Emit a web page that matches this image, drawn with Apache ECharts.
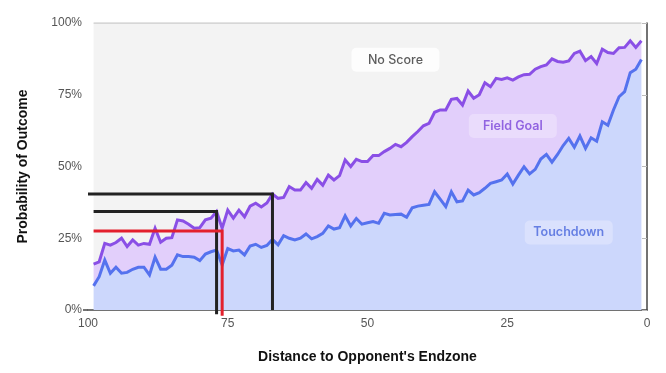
<!DOCTYPE html>
<html>
<head>
<meta charset="utf-8">
<script src="https://cdn.jsdelivr.net/npm/echarts@6/dist/echarts.min.js"></script>
<style>
  html, body { margin: 0; padding: 0; background: #ffffff; }
  #chart { width: 666px; height: 373px; }
</style>
</head>
<body>
<div id="chart"></div>
<script>
// Axis categories: distance to opponent's endzone (yards), 100 -> 0, left to right
const distanceAxis = [100,99,98,97,96,95,94,93,92,91,90,89,88,87,86,85,84,83,82,81,80,
  79,78,77,76,75,74,73,72,71,70,69,68,67,66,65,64,63,62,61,60,
  59,58,57,56,55,54,53,52,51,50,49,48,47,46,45,44,43,42,41,40,
  39,38,37,36,35,34,33,32,31,30,29,28,27,26,25,24,23,22,21,20,
  19,18,17,16,15,14,13,12,11,10,9,8,7,6,5,4,3,2,1,0];

// Yard lines with observations
const yards = [99,98,97,96,95,94,93,92,91,90,89,88,87,86,85,84,83,82,81,80,
  79,78,77,76,75,74,73,72,71,70,69,68,67,66,65,64,63,62,61,60,
  59,58,57,56,55,54,53,52,51,50,49,48,47,46,45,44,43,42,41,40,
  39,38,37,36,35,34,33,32,31,30,29,28,27,26,25,24,23,22,21,20,
  19,18,17,16,15,14,13,12,11,10,9,8,7,6,5,4,3,2,1];

// Probability (%) of a touchdown
const touchdown = [8.4,11.6,17.4,12.8,14.9,12.8,13.1,14.2,14.9,14.9,12.2,18.4,14.2,14.2,15.6,19.2,18.6,18.6,18.4,17.2,
  19.5,20.3,20.9,15.7,21.4,20.6,20.9,19.2,22.3,22.9,21.8,22.5,24.6,22.7,25.9,25.0,24.4,25.0,26.5,24.8,
  25.6,26.7,29.3,28.2,28.7,32.8,29.3,31.9,29.9,30.4,30.8,30.2,33.7,33.1,33.3,33.4,32.3,35.6,36.2,36.5,
  36.8,41.2,38.6,36.0,41.2,37.7,38.0,41.8,40.1,40.9,42.4,44.1,44.7,45.3,47.4,43.9,47.0,49.9,47.4,49.0,
  52.6,54.2,51.5,54.2,57.3,59.8,56.7,60.6,56.3,60.0,58.8,65.6,64.4,69.7,74.3,76.1,82.7,83.9,87.3];

// Probability (%) of a field goal
const fieldGoal = [7.6,5.2,5.8,9.8,8.6,12.2,9.0,10.2,7.7,8.3,10.7,10.1,9.4,10.8,9.6,12.2,12.4,11.3,10.1,11.5,
  11.9,11.7,13.4,12.8,13.4,11.4,13.9,13.3,13.9,14.3,14.1,14.8,15.8,16.2,13.3,18.0,17.4,16.8,17.9,17.6,
  19.9,16.8,17.7,17.1,18.1,19.5,20.7,20.6,21.8,21.3,23.0,23.6,21.5,23.2,24.4,23.5,26.1,24.8,26.0,27.7,
  28.2,27.7,31.1,33.7,32.2,36.0,33.4,34.5,33.7,34.1,36.8,33.7,36.0,35.0,33.5,36.2,34.2,32.1,34.7,34.9,
  32.2,31.2,36.0,32.4,29.0,27.0,32.7,29.6,30.6,28.3,27.1,25.3,25.3,19.7,17.1,15.4,11.1,7.6,6.5];

// Probability (%) of no score
const noScore = [84.0,83.2,76.8,77.4,76.5,75.0,77.9,75.6,77.4,76.8,77.1,71.5,76.4,75.0,74.8,68.6,69.0,70.1,71.5,71.3,
  68.6,68.0,65.7,71.5,65.2,68.0,65.2,67.5,63.8,62.8,64.1,62.7,59.6,61.1,60.8,57.0,58.2,58.2,55.6,57.6,
  54.5,56.5,53.0,54.7,53.2,47.7,50.0,47.5,48.3,48.3,46.2,46.2,44.8,43.7,42.3,43.1,41.6,39.6,37.8,35.8,
  35.0,31.1,30.3,30.3,26.6,26.3,28.6,23.7,26.2,25.0,20.8,22.2,19.3,19.7,19.1,19.9,18.8,18.0,17.9,16.1,
  15.2,14.6,12.5,13.4,13.7,13.2,10.6,9.8,13.1,11.7,14.1,9.1,10.3,10.6,8.6,8.5,6.2,8.5,6.2];

const xTicks = [100, 75, 50, 25, 0];

// Hand-drawn annotation guides: [start yard, yard, probability, bottom]
const annoBlackHigh = [100, 67, 40.4, 0];
const annoBlackLow  = [99, 77, 34.3, -1.5];
const annoRed       = [99, 76, 27.5, -2];

// Region labels: [text, yard, probability]
const regionLabels = [
  ['No Score', 45, 87.2],
  ['Field Goal', 24, 64.1],
  ['Touchdown', 14, 27.0]
];

const pair = (a, b) => a.map((v, i) => [String(v), b[i]]);
const guide = (g) => [[String(g[0]), g[2]], [String(g[1]), g[2]], [String(g[1]), g[3]]];

const AX = '"Liberation Sans", Arial, sans-serif';
const LBL = 'Inter, "Noto Sans", sans-serif';

const labelStyles = [
  { bg: '#ffffff', color: '#333333', weight: 500 },
  { bg: '#ecdffc', color: '#7b45d9', weight: 600 },
  { bg: '#dde4fd', color: '#4866dc', weight: 600 }
];

const chart = echarts.init(document.getElementById('chart'), null, { renderer: 'canvas' });

const option = {
  animation: false,
  backgroundColor: '#ffffff',
  grid: { left: 88, right: 19, top: 23, bottom: 63, containLabel: false },
  xAxis: {
    type: 'category', data: distanceAxis.map(String), boundaryGap: false,
    name: "Distance to Opponent's Endzone",
    nameLocation: 'middle', nameGap: 40,
    nameTextStyle: { fontFamily: AX, fontSize: 14, fontWeight: 'bold', color: '#111' },
    axisLine: { show: true, onZero: false, lineStyle: { color: '#444', width: 1.5 } },
    axisTick: { show: false },
    axisLabel: { color: '#555', fontFamily: AX, fontSize: 12, margin: 8,
      interval: (idx, val) => xTicks.indexOf(Number(val)) >= 0 },
    splitLine: { show: false }
  },
  yAxis: [{
    type: 'value', min: 0, max: 100, interval: 25, position: 'left',
    name: 'Probability of Outcome',
    nameLocation: 'middle', nameGap: 58,
    nameTextStyle: { fontFamily: AX, fontSize: 14, fontWeight: 'bold', color: '#111' },
    axisLine: { show: false, onZero: false },
    axisTick: { show: false },
    axisLabel: { color: '#555', fontFamily: AX, fontSize: 12, margin: 6,
      formatter: '{value}%' },
    splitLine: { show: false }
  }, {
    type: 'value', min: 0, max: 100, interval: 25, position: 'right',
    axisLine: { show: true, onZero: false, lineStyle: { color: '#444', width: 1.5 } },
    axisTick: { show: true, inside: true, length: 5, lineStyle: { color: '#bbb' } },
    axisLabel: { show: false },
    splitLine: { show: false }
  }],
  series: [
    {
      name: 'Touchdown', type: 'line', stack: 'p', z: 4,
      data: pair(yards, touchdown), symbol: 'none',
      lineStyle: { color: '#5572ee', width: 3, join: 'miter' },
      areaStyle: { color: '#ccd7fc', opacity: 1 }
    },
    {
      name: 'Field Goal', type: 'line', stack: 'p', z: 3,
      data: pair(yards, fieldGoal), symbol: 'none',
      lineStyle: { color: '#8a4fe6', width: 3, join: 'miter' },
      areaStyle: { color: '#e2cffb', opacity: 1 }
    },
    {
      name: 'No Score', type: 'line', stack: 'p', z: 2,
      data: pair(yards, noScore), symbol: 'none',
      lineStyle: { color: '#cdcdcd', width: 1.5 },
      areaStyle: { color: '#f3f3f3', opacity: 1 }
    },
    {
      type: 'line', z: 6, clip: false, symbol: 'none',
      data: guide(annoBlackHigh),
      lineStyle: { color: '#222', width: 3, join: 'miter', cap: 'butt' }
    },
    {
      type: 'line', z: 6, clip: false, symbol: 'none',
      data: guide(annoBlackLow),
      lineStyle: { color: '#222', width: 3, join: 'miter', cap: 'butt' }
    },
    {
      type: 'line', z: 7, clip: false, symbol: 'none',
      data: guide(annoRed),
      lineStyle: { color: '#e3202d', width: 3, join: 'miter', cap: 'butt' }
    },
    {
      type: 'scatter', z: 8, symbolSize: 0, silent: true,
      data: regionLabels.map((r, i) => ({
        value: [String(r[1]), r[2]],
        label: {
          show: true, position: 'inside', formatter: r[0],
          fontFamily: LBL, fontSize: 12.5, fontWeight: labelStyles[i].weight,
          color: labelStyles[i].color, backgroundColor: labelStyles[i].bg,
          width: 88, height: 24, lineHeight: 24, align: 'center', verticalAlign: 'middle',
          borderRadius: 5
        }
      }))
    }
  ]
};

chart.setOption(option);

// small extension of the baseline to the left of the plot
const p0 = chart.convertToPixel({ xAxisIndex: 0, yAxisIndex: 0 }, ['100', 0]);
chart.setOption({
  graphic: [{
    type: 'line', z: 10,
    shape: { x1: p0[0] - 5, y1: p0[1], x2: p0[0], y2: p0[1] },
    style: { stroke: '#444', lineWidth: 1.5 }
  }]
});
</script>
</body>
</html>
